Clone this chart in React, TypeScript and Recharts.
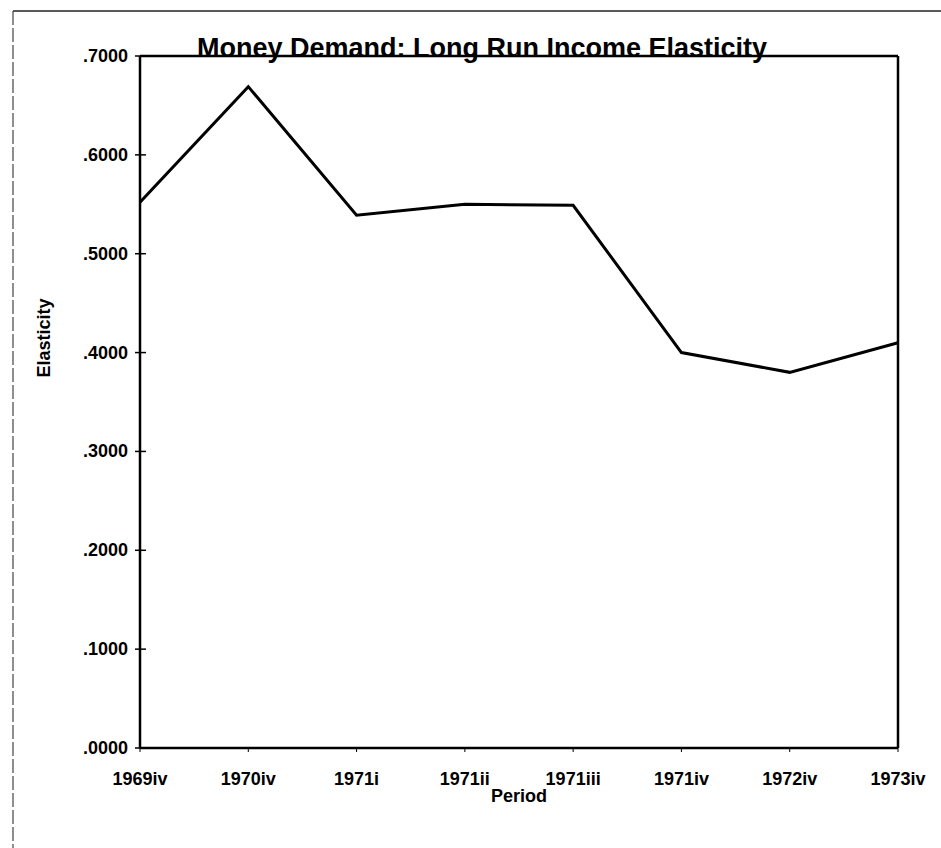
import React from 'react';
import { LineChart, Line, XAxis, YAxis, ReferenceLine } from 'recharts';

const periods = ['1969iv', '1970iv', '1971i', '1971ii', '1971iii', '1971iv', '1972iv', '1973iv'];
const elasticity = [0.552, 0.669, 0.539, 0.55, 0.549, 0.4, 0.38, 0.41];
const yTicks = [0, 0.1, 0.2, 0.3, 0.4, 0.5, 0.6, 0.7];

const chartData = periods.map((period, i) => ({ period, value: elasticity[i] }));

const FONT = '"Liberation Sans", Arial, sans-serif';

const fmt = (v: number) => v.toFixed(4).replace(/^0/, '');

const YTick = ({ x, y, payload }: any) => (
  <g>
    <line x1={x - 5} x2={x + 6} y1={y} y2={y} stroke="#000" strokeWidth={1.5} />
    <text x={x - 12} y={y} dy={6} textAnchor="end" fontFamily={FONT} fontWeight="bold" fontSize={18} fill="#000">
      {fmt(payload.value)}
    </text>
  </g>
);

const XTick = ({ x, y, payload }: any) => (
  <g>
    <line x1={x} x2={x} y1={y} y2={y + 4} stroke="#000" strokeWidth={1} />
    <text x={x} y={y + 37} textAnchor="middle" fontFamily={FONT} fontWeight="bold" fontSize={18} fill="#000">
      {payload.value}
    </text>
  </g>
);

export default function App() {
  const axisStyle = { stroke: '#000', strokeWidth: 2.5 };
  return (
    <div style={{ position: 'absolute', left: 0, top: 0, width: 941, height: 848, background: '#fff' }}>
      <LineChart width={941} height={848} data={chartData} margin={{ top: 56, right: 43, bottom: 60, left: 60 }}>
        <XAxis
          dataKey="period"
          height={40}
          axisLine={axisStyle}
          tickLine={false}
          tickSize={0}
          tickMargin={0}
          tick={<XTick />}
          interval={0}
        />
        <YAxis
          width={80}
          domain={[0, 0.7]}
          ticks={yTicks}
          axisLine={axisStyle}
          tickLine={false}
          tickSize={0}
          tickMargin={0}
          tick={<YTick />}
          interval={0}
        />
        <ReferenceLine y={0.7} stroke="#000" strokeWidth={2.5} />
        <ReferenceLine x={periods[periods.length - 1]} stroke="#000" strokeWidth={2.5} />
        <Line
          type="linear"
          dataKey="value"
          stroke="#000"
          strokeWidth={3}
          dot={false}
          activeDot={false}
          isAnimationActive={false}
        />
      </LineChart>
      <svg width={941} height={848} style={{ position: 'absolute', left: 0, top: 0, pointerEvents: 'none' }}>
        <line x1={13} y1={11} x2={941} y2={11} stroke="#222" strokeWidth={1.5} />
        <line x1={13} y1={11} x2={13} y2={848} stroke="#444" strokeWidth={1.2} strokeDasharray="14 3" />
        <text x={482} y={57} textAnchor="middle" fontFamily={FONT} fontWeight="bold" fontSize={27} fill="#000">
          Money Demand: Long Run Income Elasticity
        </text>
        <text
          x={0}
          y={0}
          transform="translate(50, 338) rotate(-90)"
          textAnchor="middle"
          fontFamily={FONT}
          fontWeight="bold"
          fontSize={18}
          fill="#000"
        >
          Elasticity
        </text>
        <text x={519} y={802} textAnchor="middle" fontFamily={FONT} fontWeight="bold" fontSize={18} fill="#000">
          Period
        </text>
      </svg>
    </div>
  );
}
